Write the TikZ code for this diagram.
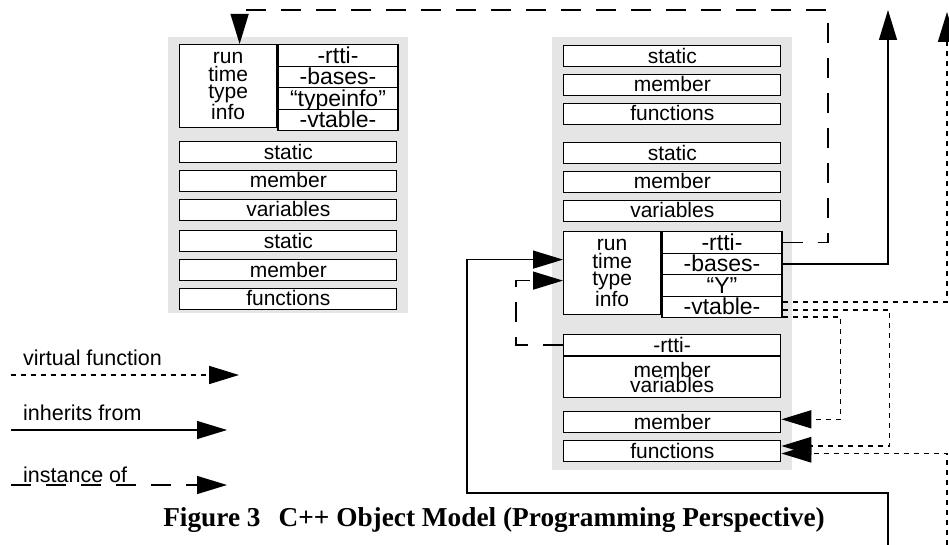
\documentclass[tikz,border=0pt]{standalone}
\usepackage{fontspec}
\setmainfont{Liberation Sans}
\newfontfamily\capfont{Liberation Serif}
\usetikzlibrary{matrix,positioning,arrows.meta}

\tikzset{
  panel/.style={fill=black!10},
  slot/.style={draw, fill=white, line width=1.2pt, minimum width=217pt, minimum height=21pt,
    inner sep=0, font=\fontsize{21}{17}\selectfont, text height=16pt, text depth=2pt},
  cell/.style={slot, minimum width=120pt, minimum height=21.5pt,
    font=\fontsize{23}{20}\selectfont, text height=17pt, text depth=2pt},
  runbox/.style={draw, fill=white, line width=1.2pt, minimum width=97pt, minimum height=83pt,
    inner sep=0, align=center, font=\fontsize{21}{17.5}\selectfont},
  twoline/.style={draw, fill=white, line width=1.2pt, minimum width=217pt, minimum height=41pt,
    inner sep=0, align=center, font=\fontsize{21}{15.5}\selectfont},
  lbl/.style={inner sep=0, font=\fontsize{21.5}{21.5}\selectfont},
  bighead/.style={-{Triangle[length=30pt,width=18pt]}},
  virt/.style={bighead, line width=1.6pt, dash pattern=on 5pt off 5pt},
  inh/.style={bighead, line width=1.3pt},
  inst/.style={bighead, line width=1.3pt, dash pattern=on 20pt off 15pt},
}

\begin{document}
\begin{tikzpicture}[x=1pt, y=-1pt]
  \useasboundingbox (0,0) rectangle (949,545);
  \fill[panel] (168,37) rectangle (408,313);
  \fill[panel] (552,37) rectangle (792,470);

  % left class
  \node[runbox, anchor=north west] (lrun) at (179,44) {run\\time\\type\\info};
  \matrix (lrtti) [matrix of nodes, nodes={cell}, row sep=-1.2pt, inner sep=0,
  anchor=north west] at (lrun.north east) {
    -rtti-      \\
    -bases-     \\
    “typeinfo”  \\
    -vtable-    \\
  };
  \matrix (lsvar) [matrix of nodes, nodes={slot}, row sep=6.5pt, inner sep=0,
  anchor=north west] at (179,141) {
    static    \\
    member    \\
    variables \\
  };
  \matrix (lsfun) [matrix of nodes, nodes={slot}, row sep=6.5pt, inner sep=0,
  anchor=north west] at (179,230) {
    static    \\
    member    \\
    functions \\
  };

  % right class
  \matrix (rsfun) [matrix of nodes, nodes={slot}, row sep=6.5pt, inner sep=0,
  anchor=north west] at (563,45) {
    static    \\
    member    \\
    functions \\
  };
  \matrix (rsvar) [matrix of nodes, nodes={slot}, row sep=6.5pt, inner sep=0,
  anchor=north west] at (563,142) {
    static    \\
    member    \\
    variables \\
  };
  \node[runbox, anchor=north west] (rrun) at (563,231) {run\\time\\type\\info};
  \matrix (rrtti) [matrix of nodes, nodes={cell}, row sep=-1.2pt, inner sep=0,
  anchor=north west] at (rrun.north east) {
    -rtti-   \\
    -bases-  \\
    “Y”      \\
    -vtable- \\
  };
  \node[slot, anchor=north west] (rmv) at (563,334) {-rtti-};
  \node[twoline, below=0pt of rmv] (rmvv) {member\\variables};
  \matrix (rmf) [matrix of nodes, nodes={slot}, row sep=6.5pt, inner sep=0,
  anchor=north west] at (563,411) {
    member    \\
    functions \\
  };

  % connectors
  \coordinate (itop) at (828,10);
  \coordinate (btop) at (888,10);
  \coordinate (vtop) at (947,12);
  \coordinate (ibot) at (888,545);
  \coordinate (ibend) at (467,493);
  \coordinate (vbot) at (947,545);

  \draw[inst] (rrtti-1-1.east) -| (itop) -| ([xshift=11.5pt]lrun.north);
  \draw[inh] (rrtti-2-1.east) -| (btop);
  \draw[virt] ([yshift=5pt]rrtti-4-1.east) -| (vtop);
  \draw[virt] ([yshift=-3pt]rrtti-4-1.east) -- ++(107,0) |- ([yshift=5pt]rmf-2-1.east);
  \draw[virt] ([yshift=-10pt]rrtti-4-1.east) -- ++(58,0) |- ([yshift=3pt]rmf-1-1.east);
  \draw[virt] (vbot) |- ([yshift=-2.5pt]rmf-2-1.east);
  \draw[inh] (ibot) |- (ibend) |- ([yshift=13.5pt]rrun.west);
  \draw[inst] (rmv.west) -- ++(-47,0) |- ([yshift=-7.5pt]rrun.west);

  % legend
  \node[lbl, anchor=base west] (lvirt) at (23,365) {virtual function};
  \node[lbl, anchor=base west] (linh) at (23,420) {inherits from};
  \node[lbl, anchor=base west] (linst) at (23,482) {instance of};
  \coordinate (v0) at (11,375);
  \coordinate (v1) at (239,375);
  \coordinate (h0) at (11,430);
  \coordinate (h1) at (227,430);
  \coordinate (d0) at (11,485);
  \coordinate (d1) at (227,485);
  \draw[virt] (v0) -- (v1);
  \draw[inh] (h0) -- (h1);
  \draw[inst] (d0) -- (d1);

  \node[font=\capfont\bfseries\fontsize{27.3}{27.3}\selectfont] (cap) at (494,520)
    {Figure 3\hspace{18pt}C++ Object Model (Programming Perspective)};
\end{tikzpicture}
\end{document}
